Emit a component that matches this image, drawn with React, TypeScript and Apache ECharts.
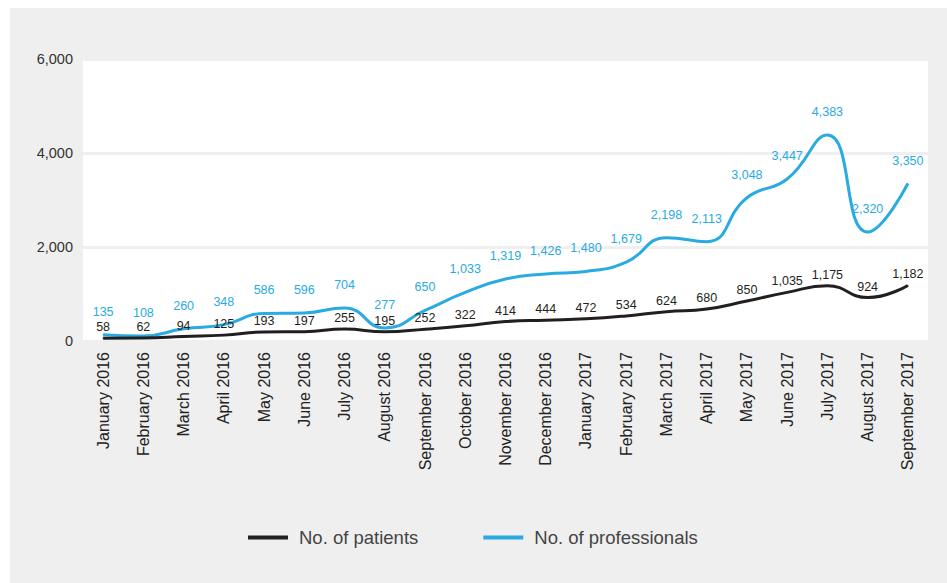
import React, { useEffect, useRef } from "react";
import * as echarts from "echarts";

const categories = [
  "January 2016", "February 2016", "March 2016", "April 2016", "May 2016", "June 2016",
  "July 2016", "August 2016", "September 2016", "October 2016", "November 2016", "December 2016",
  "January 2017", "February 2017", "March 2017", "April 2017", "May 2017", "June 2017",
  "July 2017", "August 2017", "September 2017",
];
const patients = [58, 62, 94, 125, 193, 197, 255, 195, 252, 322, 414, 444, 472, 534, 624, 680, 850, 1035, 1175, 924, 1182];
const professionals = [135, 108, 260, 348, 586, 596, 704, 277, 650, 1033, 1319, 1426, 1480, 1679, 2198, 2113, 3048, 3447, 4383, 2320, 3350];
const seriesNames = ["No. of patients", "No. of professionals"];
const yTicks = { min: 0, max: 6000, interval: 2000 };

const BLUE = "#29abe2";
const BLACK = "#231f20";
const FONT = "'Liberation Sans', Arial, Helvetica, sans-serif";

const fmt = (v: number) => String(Math.round(v)).replace(/\B(?=(\d{3})+(?!\d))/g, ",");

export default function App() {
  const ref = useRef<HTMLDivElement>(null);
  useEffect(() => {
    if (!ref.current) return;
    const chart = echarts.init(ref.current, undefined, { renderer: "svg" });
    chart.setOption({
      animation: false,
      textStyle: { fontFamily: FONT },
      grid: {
        show: true,
        backgroundColor: "#ffffff",
        borderWidth: 0,
        left: 73,
        right: 19,
        top: 51,
        bottom: 242,
        containLabel: false,
      },
      legend: {
        left: 233,
        top: 515,
        icon: "rect",
        itemWidth: 40,
        itemHeight: 4,
        itemGap: 65,
        data: seriesNames,
        textStyle: { fontSize: 18.5, color: "#444", fontFamily: FONT, padding: [0, 0, 0, 6] },
      },
      xAxis: {
        type: "category",
        data: categories,
        boundaryGap: true,
        axisLine: { show: false },
        axisTick: { show: false },
        axisLabel: {
          rotate: 90,
          fontSize: 16,
          color: "#222",
          margin: 11,
          interval: 0,
          fontFamily: FONT,
        },
      },
      yAxis: {
        type: "value",
        min: yTicks.min,
        max: yTicks.max,
        interval: yTicks.interval,
        axisLine: { show: false },
        axisTick: { show: false },
        splitLine: { lineStyle: { color: "#efefef", width: 3 } },
        axisLabel: {
          fontSize: 14.5,
          color: "#333",
          margin: 10,
          formatter: (v: number) => fmt(v),
          fontFamily: FONT,
        },
      },
      series: [
        {
          name: seriesNames[0],
          type: "line",
          data: patients,
          smooth: true,
          symbol: "circle",
          symbolSize: 1,
          itemStyle: { color: BLACK },
          lineStyle: { color: BLACK, width: 3 },
          label: {
            show: true,
            position: "top",
            distance: 4,
            color: BLACK,
            fontSize: 12.5,
            fontFamily: FONT,
            formatter: (p: any) => fmt(p.value),
          },
          z: 3,
        },
        {
          name: seriesNames[1],
          type: "line",
          data: professionals,
          smooth: true,
          symbol: "circle",
          symbolSize: 1,
          itemStyle: { color: BLUE },
          lineStyle: { color: BLUE, width: 3 },
          label: {
            show: true,
            position: "top",
            distance: 16,
            color: BLUE,
            fontSize: 12.5,
            fontFamily: FONT,
            formatter: (p: any) => fmt(p.value),
          },
          z: 2,
        },
      ],
    });
    return () => chart.dispose();
  }, []);
  return (
    <div
      style={{
        position: "absolute",
        left: 10,
        top: 8,
        width: 937,
        height: 575,
        background: "#efefef",
      }}
    >
      <div ref={ref} style={{ width: 937, height: 575 }} />
    </div>
  );
}
